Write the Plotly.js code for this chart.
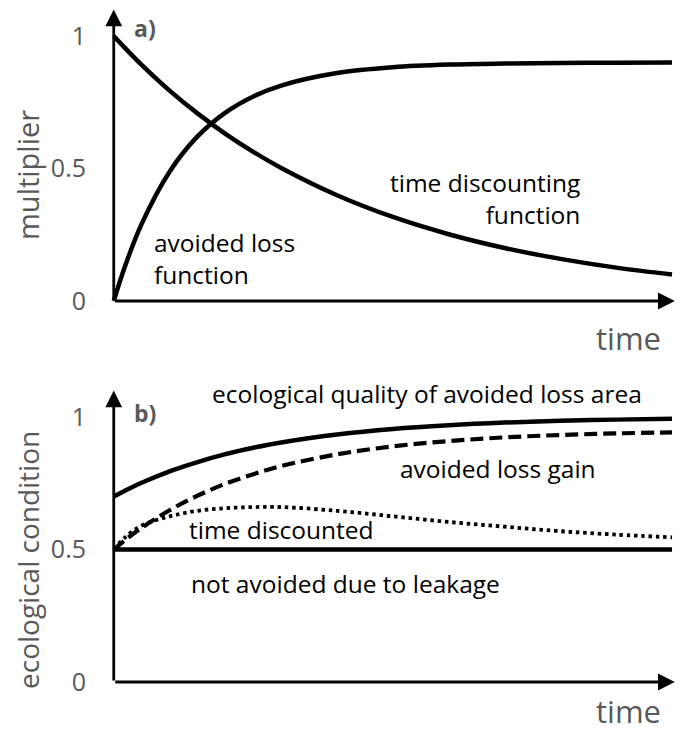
<!DOCTYPE html>
<html>
<head>
<meta charset="utf-8">
<script src="https://cdn.plot.ly/plotly-3.0.1.min.js"></script>
<style>html,body{margin:0;padding:0;background:#fff;}#chart{width:683px;height:731px;}</style>
</head>
<body>
<div id="chart"></div>
<script>
// time (normalised 0..1)
const time = [0, 0.02, 0.05, 0.1, 0.15, 0.2, 0.25, 0.3, 0.4, 0.5, 0.6, 0.7, 0.8, 0.9, 1.0];
// panel a
const timeDiscounting = [1.0, 0.955, 0.891, 0.794, 0.708, 0.631, 0.563, 0.502, 0.399, 0.317, 0.252, 0.200, 0.159, 0.126, 0.100];
const avoidedLoss     = [0.0, 0.130, 0.291, 0.488, 0.621, 0.711, 0.772, 0.813, 0.860, 0.882, 0.892, 0.896, 0.898, 0.899, 0.900];
// panel b
const ecoQuality      = [0.70, 0.722, 0.752, 0.795, 0.830, 0.860, 0.884, 0.904, 0.934, 0.955, 0.969, 0.979, 0.986, 0.990, 0.993];
const avoidedGain     = [0.50, 0.535, 0.582, 0.648, 0.703, 0.748, 0.784, 0.815, 0.859, 0.889, 0.909, 0.923, 0.932, 0.938, 0.942];
const timeDiscounted  = [0.50, 0.545, 0.590, 0.625, 0.646, 0.656, 0.660, 0.660, 0.646, 0.625, 0.604, 0.586, 0.569, 0.556, 0.546];
const leakage         = [0.50, 0.50, 0.50, 0.50, 0.50, 0.50, 0.50, 0.50, 0.50, 0.50, 0.50, 0.50, 0.50, 0.50, 0.50];
const tickVals = [0, 0.5, 1];
const tickText = ['0', '0.5', '1'];

const FONT = '"Open Sans", Lato, sans-serif';
const GRAY = '#595959';
const line = (w, dash) => ({color: '#000', width: w, shape: 'spline', smoothing: 1, dash: dash || 'solid'});

const traces = [
  {x: time, y: timeDiscounting, xaxis: 'x', yaxis: 'y', mode: 'lines', line: line(4.5), name: 'time discounting function'},
  {x: time, y: avoidedLoss, xaxis: 'x', yaxis: 'y', mode: 'lines', line: line(4.5), name: 'avoided loss function'},
  {x: time, y: leakage, xaxis: 'x2', yaxis: 'y2', mode: 'lines', line: line(4.5), name: 'not avoided due to leakage'},
  {x: time, y: ecoQuality, xaxis: 'x2', yaxis: 'y2', mode: 'lines', line: line(4.5), name: 'ecological quality of avoided loss area'},
  {x: time, y: avoidedGain, xaxis: 'x2', yaxis: 'y2', mode: 'lines', line: line(4.2, '13px,6px'), name: 'avoided loss gain'},
  {x: time, y: timeDiscounted, xaxis: 'x2', yaxis: 'y2', mode: 'lines', line: line(3.8, '3.5px,3.8px'), name: 'time discounted'}
];

const xa = {range: [-0.03, 1.0125], showgrid: false, zeroline: false, showline: false, showticklabels: false, ticks: '', fixedrange: true};
const ya = (dom, rng) => ({domain: dom, range: rng, showgrid: false, zeroline: false, showline: false, ticks: '',
  tickvals: tickVals, ticktext: tickText, tickfont: {family: FONT, size: 25, color: GRAY}, ticklabelstandoff: 10});

function arrow(xr, yr, x, y) {
  return {xref: xr, yref: yr, axref: xr, ayref: yr, x: x, y: y, ax: 0, ay: 0, text: '', showarrow: true,
    arrowhead: 2, arrowsize: 1.2, arrowwidth: 2.8, arrowcolor: '#000', standoff: 0, startstandoff: 0};
}
function label(xr, yr, x, y, text, xanchor, align, opts) {
  return Object.assign({xref: xr, yref: yr, x: x, y: y, text: text, showarrow: false, xanchor: xanchor || 'left',
    yanchor: 'middle', align: align || 'left', font: {family: FONT, size: 24.5, color: '#000'}}, opts || {});
}

const annotations = [
  arrow('x', 'y', 1.005, 0), arrow('x', 'y', 0, 1.1),
  arrow('x2', 'y2', 1.005, 0), arrow('x2', 'y2', 0, 1.1),
  label('x', 'y', 0.068, 0.16, 'avoided loss<br>function', 'left', 'left'),
  label('x', 'y', 0.838, 0.385, 'time discounting<br>function', 'right', 'right'),
  label('x', 'y', 0.032, 1.03, '<b>a)</b>', 'left', 'left', {font: {family: FONT, size: 23, color: GRAY}}),
  label('x2', 'y2', 0.032, 1.015, '<b>b)</b>', 'left', 'left', {font: {family: FONT, size: 23, color: GRAY}}),
  label('x2', 'y2', 0.172, 1.087, 'ecological quality of avoided loss area'),
  label('x2', 'y2', 0.51, 0.804, 'avoided loss gain'),
  label('x2', 'y2', 0.132, 0.574, 'time discounted'),
  label('x2', 'y2', 0.134, 0.370, 'not avoided due to leakage'),
  label('paper', 'paper', (628 - 97) / 582, 1 - 338 / 731, 'time', 'center', 'center', {font: {family: FONT, size: 31, color: GRAY}}),
  label('paper', 'paper', (628 - 97) / 582, 1 - 711 / 731, 'time', 'center', 'center', {font: {family: FONT, size: 31, color: GRAY}}),
  label('paper', 'paper', (28 - 97) / 582, 1 - 175 / 731, 'multiplier', 'center', 'center', {textangle: -90, font: {family: FONT, size: 29, color: GRAY}}),
  label('paper', 'paper', (28 - 97) / 582, 1 - 560 / 731, 'ecological condition', 'center', 'center', {textangle: -90, font: {family: FONT, size: 28, color: GRAY}})
];

const layout = {
  width: 683, height: 731,
  margin: {l: 97, r: 4, t: 0, b: 0},
  paper_bgcolor: '#fff', plot_bgcolor: '#fff',
  showlegend: false,
  xaxis: Object.assign({anchor: 'y'}, xa),
  xaxis2: Object.assign({anchor: 'y2'}, xa),
  yaxis: Object.assign({anchor: 'x'}, ya([0.5701, 0.9979], [-0.05, 1.13])),
  yaxis2: Object.assign({anchor: 'x2'}, ya([0.0489, 0.5021], [-0.05, 1.2])),
  annotations: annotations
};

Plotly.newPlot('chart', traces, layout, {staticPlot: true, displayModeBar: false});
</script>
</body>
</html>
